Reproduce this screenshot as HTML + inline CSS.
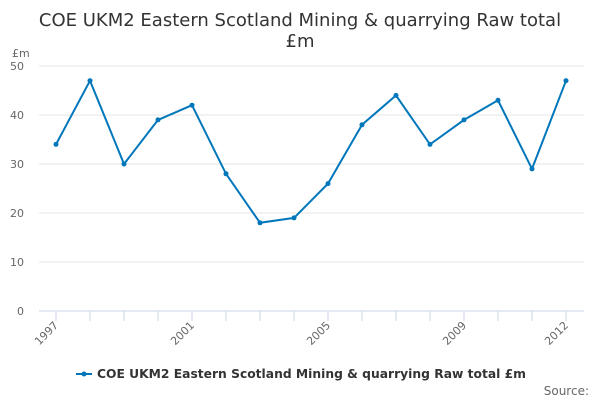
<!DOCTYPE html>
<html><head><meta charset="utf-8"><style>
body{margin:0;background:#fff;font-family:"DejaVu Sans","Liberation Sans",sans-serif;}
svg{display:block}
</style></head><body>
<svg id="chart" width="600" height="400">
<text x="300" y="26" text-anchor="middle" font-size="18" fill="#333">COE UKM2 Eastern Scotland Mining &amp; quarrying Raw total</text>
<text x="300" y="47" text-anchor="middle" font-size="18" fill="#333">£m</text>
<text x="12" y="57" font-size="11" fill="#666">£m</text>
<g id="grid"></g><g id="xaxis"></g><g id="series"></g>
<g>
<line x1="76" y1="374" x2="92" y2="374" stroke="#0077bb" stroke-width="2"/>
<circle cx="84" cy="374" r="2.5" fill="#0077bb"/>
<text x="97" y="378" font-size="12.3" font-weight="bold" fill="#333">COE UKM2 Eastern Scotland Mining &amp; quarrying Raw total £m</text>
</g>
<text x="589" y="395" text-anchor="end" font-size="12" fill="#666">Source:</text>
</svg>
<script>
const years=[1997,1998,1999,2000,2001,2002,2003,2004,2005,2006,2007,2008,2009,2010,2011,2012];
const values=[34,47,30,39,42,28,18,19,26,38,44,34,39,43,29,47];
const yTicks=[0,10,20,30,40,50];
const xLabels=[1997,2001,2005,2009,2012];
const ns="http://www.w3.org/2000/svg";
const x=v=>56+(v-1997)*34, y=v=>311-v*4.9;
function mk(t,a,p){const e=document.createElementNS(ns,t);for(const k in a)e.setAttribute(k,a[k]);p.appendChild(e);return e;}
const g=document.getElementById('grid'),xa=document.getElementById('xaxis'),s=document.getElementById('series');
yTicks.forEach(t=>{
 const l=mk('line',{x1:39,x2:584,y1:y(t),y2:y(t),stroke:t?'#e6e6e6':'#ccd6eb'},g);
 
 
 const tx=mk('text',{x:24,y:y(t)+4,'text-anchor':'end','font-size':11,fill:'#666'},g);tx.textContent=t;
 
 
});
years.forEach(v=>{const l=mk('line',{x1:x(v),x2:x(v),y1:311,y2:321,stroke:'#ccd6eb'},xa);
 
 });
xLabels.forEach(v=>{const t=mk('text',{x:x(v)+3,y:326,'text-anchor':'end','font-size':11,fill:'#666',transform:`rotate(-45 ${x(v)+3} 326)`},xa);t.textContent=v;
 
 });
const p=mk('polyline',{points:years.map((v,i)=>x(v)+','+y(values[i])).join(' '),fill:'none',stroke:'#0077bb','stroke-width':2},s);


years.forEach((v,i)=>{const c=mk('circle',{cx:x(v),cy:y(values[i]),r:2.5,fill:'#0077bb'},s);
 
 });
</script>
</body></html>
